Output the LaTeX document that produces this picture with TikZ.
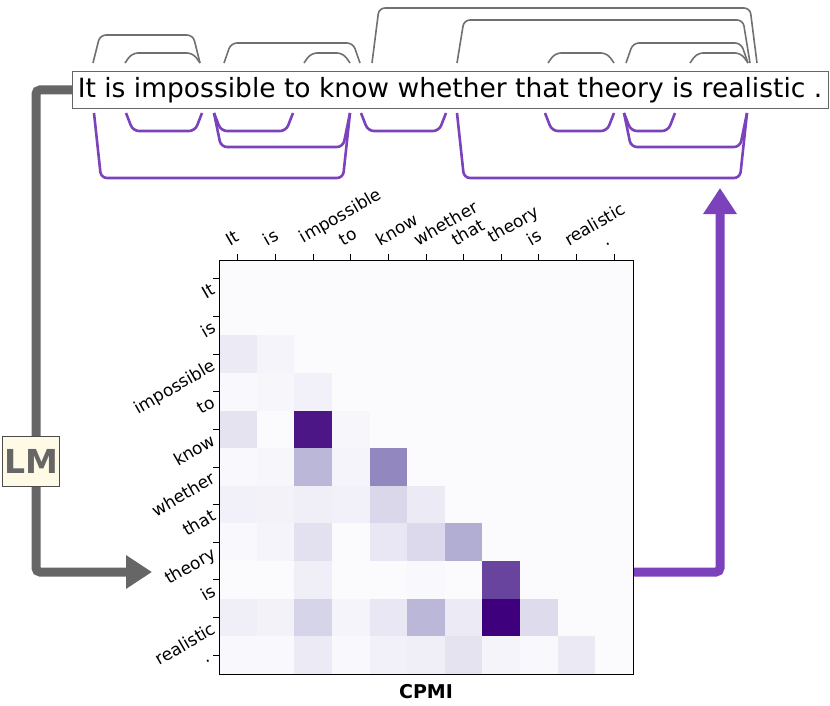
\documentclass[tikz,border=0pt]{standalone}
\usepackage{fontspec}
\setmainfont{DejaVu Sans}
\usepackage{tikz}
\usetikzlibrary{arrows.meta,positioning}
\definecolor{arcgray}{HTML}{707070}
\definecolor{arcpurple}{HTML}{7B42BC}
\definecolor{pdark}{HTML}{3F007D}
\definecolor{pmid}{HTML}{9E9AC8}
\definecolor{plight}{HTML}{FBFAFD}
\definecolor{lmfill}{HTML}{FFFAE6}
\tikzset{
  uparc/.style={draw=arcgray,line width=1.6pt,rounded corners=6pt},
  downarc/.style={draw=arcpurple,line width=2.6pt,rounded corners=6pt},
  bigarrow/.style={line width=9pt,-{Triangle[length=26pt,width=32pt]}},
  tick/.style={line width=0.9pt},
  xlab/.style={rotate=30,anchor=south west,font=\fontsize{17}{17}\selectfont,inner sep=1pt},
  ylab/.style={rotate=30,anchor=north east,font=\fontsize{17}{17}\selectfont,inner sep=1pt},
  sentbox/.style={draw=black!60,fill=white,line width=1pt,minimum width=756pt,minimum height=37pt,
      inner sep=0pt,font=\fontsize{26.5}{26.5}\selectfont}
}
% gray arc above the sentence / purple arc below it
\newcommand{\uarc}[3]{\draw[uparc] (#1,63) -- (#1+7,#3) -- (#2-7,#3) -- (#2,63);}
\newcommand{\darc}[3]{\draw[downarc] (#1,113) -- (#1+7,#3) -- (#2-7,#3) -- (#2,113);}
\begin{document}
\begin{tikzpicture}[x=1pt,y=-1pt]
\useasboundingbox (0,0) rectangle (830,706);
% arrows
\coordinate (sentin) at (72,90);
\coordinate (lmtip) at (152,572);
\coordinate (mapout) at (633,572);
\coordinate (uptip) at (720,188);
\draw[bigarrow,draw=black!60,rounded corners=4pt] (sentin) -- (36,90) |- (lmtip);
\draw[bigarrow,draw=arcpurple,rounded corners=4pt] (mapout) -| (uptip);
\node[draw=black!70,fill=lmfill,line width=1pt,minimum width=57pt,minimum height=50pt,inner sep=2pt,
      text=black!60,font=\fontsize{33}{33}\selectfont\bfseries] (lm) at (31,461) {LM};
\node[sentbox] (sent) at (450,90)
      {It is impossible to know whether that theory is realistic .};
% arcs
\uarc{93}{200}{35}
\uarc{125}{200}{53}
\uarc{224}{360}{43}
\uarc{304}{350}{53}
\uarc{372}{757}{8}
\uarc{457}{750}{20}
\uarc{548}{614}{53}
\uarc{626}{748}{43}
\uarc{690}{748}{53}
\darc{126}{202}{131}
\darc{214}{293}{131}
\darc{214}{350}{147}
\darc{94}{350}{178}
\darc{361}{446}{131}
\darc{545}{614}{131}
\darc{624}{675}{131}
\darc{624}{747}{147}
\darc{457}{747}{178}
% heat map
\fill[plight] (219,260) rectangle (633,674);
\foreach \r/\c/\v in {2/0/8,2/1/3,3/0/1,3/1/2,3/2/5,4/0/12,4/2/93,4/3/2,
  5/0/1,5/1/2,5/2/35,5/3/3,5/4/56,6/0/5,6/1/4,6/2/6,6/3/5,6/4/18,6/5/8,
  7/0/1,7/1/3,7/2/13,7/4/10,7/5/17,7/6/40,8/2/6,8/5/1,8/7/78,
  9/0/6,9/1/4,9/2/20,9/3/3,9/4/10,9/5/35,9/6/8,9/7/100,9/8/16,
  10/0/1,10/1/1,10/2/8,10/3/1,10/4/5,10/5/6,10/6/12,10/7/3,10/8/1,10/9/9}{
  \ifnum\v>50
    \pgfmathtruncatemacro\w{2*(\v-50)}
    \fill[pdark!\w!pmid] (219+37.64*\c,260+37.64*\r) rectangle ++(37.64,37.64);
  \else
    \pgfmathtruncatemacro\w{2*\v}
    \fill[pmid!\w!plight] (219+37.64*\c,260+37.64*\r) rectangle ++(37.64,37.64);
  \fi
}
\draw[line width=1pt] (219,260) rectangle (633,674);
\node[font=\fontsize{19}{19}\selectfont\bfseries] (cpmi) at (426,692) {CPMI};
\foreach \w [count=\i from 0] in {It,is,impossible,to,know,whether,that,theory,is,realistic,.}{
  \draw[tick] (237.8+37.64*\i,260) -- ++(0,-6);
  \draw[tick] (219,278.8+37.64*\i) -- ++(-6,0);
  \node[xlab] at (230+37.64*\i,248) {\w};
  \node[ylab] at (211,281+37.64*\i) {\w};
}
\end{tikzpicture}
\end{document}
